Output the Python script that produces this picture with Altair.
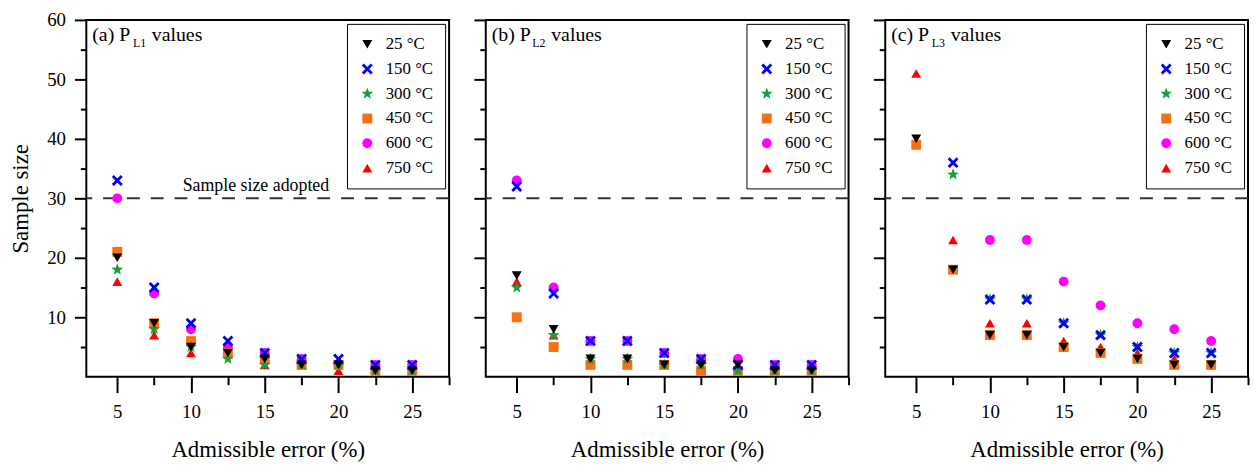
import altair as alt
import pandas as pd

FONT = "'Liberation Serif', 'Times New Roman', Times, 'DejaVu Serif', serif"

# ---------------- data ----------------
errors = [5, 7.5, 10, 12.5, 15, 17.5, 20, 22.5, 25]
temps = ["25 °C", "150 °C", "300 °C", "450 °C", "600 °C", "750 °C"]

# (a) P_L1
pl1_25 = [20, 9, 5, 4, 3, 2, 2, 1, 1]
pl1_150 = [33, 15, 9, 6, 4, 3, 3, 2, 2]
pl1_300 = [18, 8, 5, 3, 2, 2, 2, 1, 1]
pl1_450 = [21, 9, 6, 4, 3, 2, 2, 1, 1]
pl1_600 = [30, 14, 8, 5, 4, 3, 2, 2, 2]
pl1_750 = [16, 7, 4, 4, 2, 2, 1, 1, 1]

# (b) P_L2
pl2_25 = [17, 8, 3, 3, 2, 2, 2, 1, 1]
pl2_150 = [32, 14, 6, 6, 4, 3, 2, 2, 2]
pl2_300 = [15, 7, 3, 3, 2, 2, 1, 1, 1]
pl2_450 = [10, 5, 2, 2, 2, 1, 1, 1, 1]
pl2_600 = [33, 15, 6, 6, 4, 3, 3, 2, 2]
pl2_750 = [16, 7, 3, 3, 2, 2, 1, 1, 1]

# (c) P_L3  (None = above the plotted range)
pl3_25 = [40, 18, 7, 7, 5, 4, 3, 2, 2]
pl3_150 = [None, 36, 13, 13, 9, 7, 5, 4, 4]
pl3_300 = [None, 34, 13, 13, 9, 7, 5, 4, 4]
pl3_450 = [39, 18, 7, 7, 5, 4, 3, 2, 2]
pl3_600 = [None, None, 23, 23, 16, 12, 9, 8, 6]
pl3_750 = [51, 23, 9, 9, 6, 5, 4, 3, 2]

adopted_size = 30
x_major = [5, 10, 15, 20, 25]
x_minor = [7.5, 12.5, 17.5, 22.5, 27.5]
y_major = [10, 20, 30, 40, 50, 60]
y_minor = [5, 15, 25, 35, 45, 55]

# ---------------- styles ----------------
colors = ["#000000", "#0000FF", "#14A03C", "#F97012", "#FF00FF", "#FF0000"]
X_PATH = ("M-1.1,-0.7L-0.7,-1.1L0,-0.4L0.7,-1.1L1.1,-0.7L0.4,0L1.1,0.7"
          "L0.7,1.1L0,0.4L-0.7,1.1L-1.1,0.7L-0.4,0Z")
STAR_PATH = ("M0,-1.25L0.306,-0.421L1.189,-0.386L0.495,0.161L0.735,1.011"
             "L0,0.52L-0.735,1.011L-0.495,0.161L-1.189,-0.386L-0.306,-0.421Z")
shapes = ["triangle-down", X_PATH, STAR_PATH, "square", "circle", "triangle-up"]


def make_df(series):
    rows = []
    # draw 750 °C first so that 25 °C ends up on top
    for temp, vals in reversed(list(zip(temps, series))):
        for e, v in zip(errors, vals):
            if v is not None:
                rows.append({"error": e, "n": v, "temp": temp})
    return pd.DataFrame(rows)


xscale = alt.Scale(domain=[2.9, 27.5], nice=False, zero=False)
yscale = alt.Scale(domain=[0, 60], nice=False, zero=False)
one = pd.DataFrame({"k": [0]})

W = 366
H = 360


def panel(series, letter, sub, first):
    df = make_df(series)
    legend = alt.Legend(
        orient="top-right", offset=4, title=None, strokeColor="black",
        fillColor="white", padding=12, labelFont=FONT, labelFontSize=17,
        labelColor="black", labelOffset=10, rowPadding=7, symbolStrokeWidth=0,
        symbolSize=100,
    )
    xaxis = alt.Axis(
        values=x_major, orient="bottom", tickSize=16, tickWidth=2, tickColor="black",
        domain=False, grid=False, labelFont=FONT, labelFontSize=19,
        labelColor="black", labelPadding=10, title="Admissible error (%)",
        titleFont=FONT, titleFontSize=23, titleFontWeight="normal",
        titleColor="black", titlePadding=17,
    )
    ykw = dict(values=y_major, orient="left", tickSize=12, tickWidth=2,
               tickColor="black", domain=False, grid=False)
    if first:
        ykw.update(labelFont=FONT, labelFontSize=19, labelColor="black",
                   labelPadding=9, title="Sample size", titleFont=FONT,
                   titleFontSize=23, titleFontWeight="normal",
                   titleColor="black", titlePadding=14)
    else:
        ykw.update(labels=False, title=None)
    yaxis = alt.Axis(**ykw)

    minor = alt.Chart(df).mark_point(opacity=0).encode(
        x=alt.X("error:Q", scale=xscale, title=None,
                axis=alt.Axis(values=x_minor, orient="bottom", tickSize=8,
                              tickWidth=2, tickColor="black", labels=False,
                              domain=False, grid=False)),
        y=alt.Y("n:Q", scale=yscale, title=None,
                axis=alt.Axis(values=y_minor, orient="left", tickSize=6,
                              tickWidth=2, tickColor="black", labels=False,
                              domain=False, grid=False)),
    )

    rule = alt.Chart(one).mark_rule(
        strokeDash=[13, 11], strokeWidth=2, color="#333333"
    ).encode(y=alt.YDatum(adopted_size, axis=None, scale=yscale))

    points = alt.Chart(df).mark_point(
        filled=True, size=100, opacity=1, strokeWidth=0
    ).encode(
        x=alt.X("error:Q", scale=xscale, axis=xaxis),
        y=alt.Y("n:Q", scale=yscale, axis=yaxis),
        color=alt.Color("temp:N", scale=alt.Scale(domain=temps, range=colors),
                        legend=legend),
        shape=alt.Shape("temp:N", scale=alt.Scale(domain=temps, range=shapes),
                        legend=legend),
    )

    t1 = alt.Chart(one).mark_text(
        text=f"({letter}) P", font=FONT, fontSize=20, align="left",
        baseline="alphabetic", color="black"
    ).encode(x=alt.value(6), y=alt.value(21))
    t2 = alt.Chart(one).mark_text(
        text=sub, font=FONT, fontSize=12, align="left",
        baseline="alphabetic", color="black"
    ).encode(x=alt.value(47), y=alt.value(27))
    t3 = alt.Chart(one).mark_text(
        text="values", font=FONT, fontSize=20, align="left",
        baseline="alphabetic", color="black"
    ).encode(x=alt.value(66), y=alt.value(21))

    layers = [minor, rule, points, t1, t2, t3]
    if first:
        note = alt.Chart(one).mark_text(
            text="Sample size adopted", font=FONT, fontSize=18, align="center",
            baseline="alphabetic", color="black", dy=-7
        ).encode(x=alt.XDatum(14.4, axis=None, scale=xscale),
                 y=alt.YDatum(adopted_size, axis=None, scale=yscale))
        layers.append(note)

    return alt.layer(*layers).resolve_axis(
        x="independent", y="independent"
    ).properties(width=W, height=H)


p1 = panel([pl1_25, pl1_150, pl1_300, pl1_450, pl1_600, pl1_750], "a", "L1", True)
p2 = panel([pl2_25, pl2_150, pl2_300, pl2_450, pl2_600, pl2_750], "b", "L2", False)
p3 = panel([pl3_25, pl3_150, pl3_300, pl3_450, pl3_600, pl3_750], "c", "L3", False)

chart = alt.hconcat(p1, p2, p3, spacing=21).resolve_legend(
    color="independent", shape="independent"
).configure_view(
    stroke="black", strokeWidth=2
).properties(
    padding={"left": 1, "top": 0, "right": 0, "bottom": 0},
    background="white",
)

chart.save("out.html", embed_options={"renderer": "svg", "actions": False})
